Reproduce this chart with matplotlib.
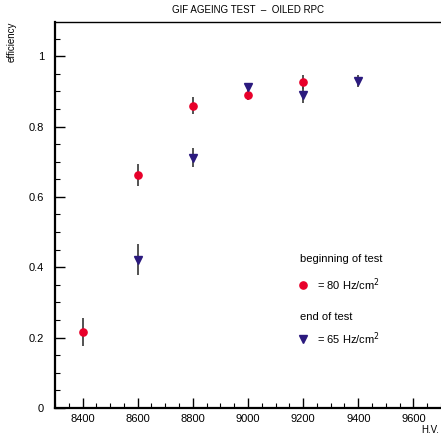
import matplotlib
matplotlib.use("Agg")
import matplotlib.pyplot as plt
from matplotlib.ticker import MultipleLocator

hv_begin = [8400, 8600, 8800, 9000, 9200]
eff_begin = [0.215, 0.662, 0.859, 0.889, 0.927]
err_begin = [0.040, 0.031, 0.024, 0.015, 0.020]

hv_end = [8600, 8800, 9000, 9200, 9400]
eff_end = [0.422, 0.711, 0.913, 0.889, 0.930]
err_end = [0.043, 0.027, 0.012, 0.022, 0.017]

plt.rcParams['font.family'] = ['Liberation Sans', 'DejaVu Sans']

fig = plt.figure(figsize=(4.41, 4.36), dpi=100)
ax = fig.add_axes([55/441, 1-408/436, 386/441, (408-22)/436])

red = '#e8002a'
blue = '#2b1a7e'
ax.errorbar(hv_begin, eff_begin, yerr=err_begin, fmt='o', color=red, ms=5.2,
            ecolor='#444444', elinewidth=1.3, capsize=0, zorder=3)
ax.errorbar(hv_end, eff_end, yerr=err_end, fmt='v', color=blue, ms=5.6,
            ecolor='#444444', elinewidth=1.3, capsize=0, zorder=3)

ax.set_xlim(8300, 9700)
ax.set_ylim(0, 1.097)
ax.xaxis.set_minor_locator(MultipleLocator(50))
ax.yaxis.set_minor_locator(MultipleLocator(0.05))
ax.set_xticks([8400, 8600, 8800, 9000, 9200, 9400, 9600])
ax.set_xticklabels(['8400', '8600', '8800', '9000', '9200', '9400', '9600'])
ax.set_yticks([0, 0.2, 0.4, 0.6, 0.8, 1.0])
ax.set_yticklabels(['0', '0.2', '0.4', '0.6', '0.8', '1'])
ax.tick_params(axis='x', which='major', direction='in', length=7, width=1,
               labelsize=8, pad=4)
ax.tick_params(axis='y', which='major', direction='in', length=7, width=1,
               labelsize=8, pad=8)
ax.tick_params(axis='both', which='minor', direction='in', length=3.5, width=0.8)
ax.tick_params(top=False, right=False)

for s in ['left', 'bottom']:
    ax.spines[s].set_linewidth(1.6)
ax.spines['top'].set_linewidth(1.0)
ax.spines['right'].set_visible(False)

fs = 7
fig.text(248/441, 1-10/436, 'GIF AGEING TEST  \u2013  OILED RPC', ha='center', va='center', fontsize=fs)
fig.text(12/441, 1-22/436, 'efficiency', rotation=90, ha='center', va='top', fontsize=fs)
fig.text(430/441, 1-430/436, 'H.V.', ha='center', va='center', fontsize=fs)

lfs = 8
ax.text(9188, 0.423, 'beginning of test', fontsize=lfs, va='center', ha='left')
ax.plot([9198], [0.349], 'o', color=red, ms=5.2)
ax.text(9250, 0.349, '= 80 Hz/cm$^2$', fontsize=lfs, va='center', ha='left')
ax.text(9188, 0.259, 'end of test', fontsize=lfs, va='center', ha='left')
ax.plot([9198], [0.196], 'v', color=blue, ms=5.6)
ax.text(9250, 0.196, '= 65 Hz/cm$^2$', fontsize=lfs, va='center', ha='left')

fig.savefig('out.png', dpi=100)
